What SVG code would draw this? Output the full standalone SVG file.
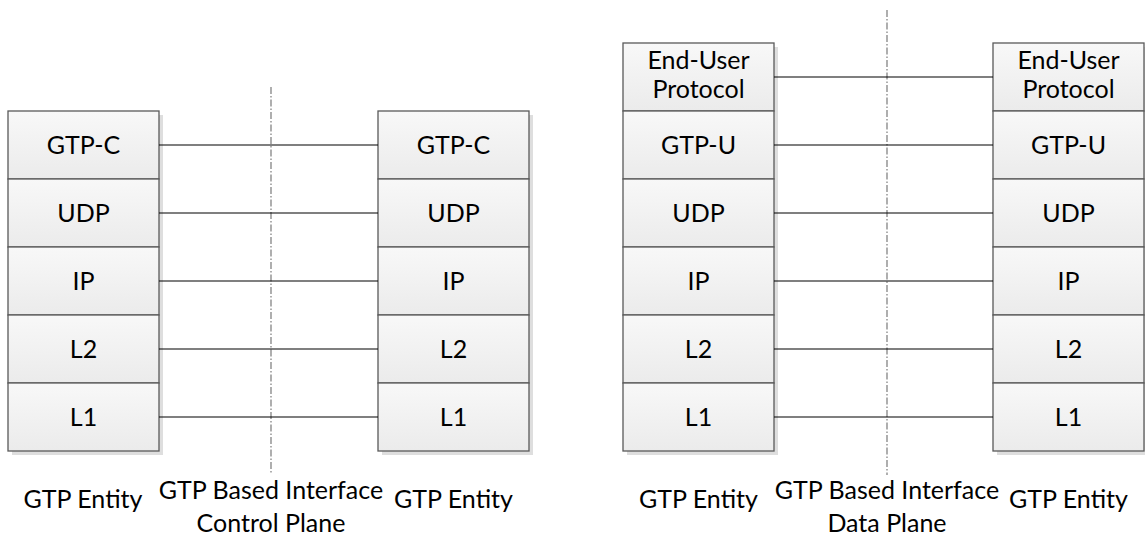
<svg xmlns="http://www.w3.org/2000/svg" width="1145" height="538" viewBox="0 0 1145 538">
  <style>
    .layer { fill: url(#boxFill); stroke: #595959; stroke-width: 1.3; }
    .shadow { fill: #dedede; }
    .lbl { font-family: "Lato", "Open Sans", "Liberation Sans", sans-serif; font-size: 25px; fill: #000; text-anchor: middle; }
    .link { stroke: #000; stroke-width: 1.1; fill: none; }
    .divider { stroke: #7a7a7a; stroke-width: 1.2; stroke-dasharray: 7 2 1.5 2; fill: none; }
  </style>
  <defs>
    <linearGradient id="boxFill" x1="0" y1="0" x2="0" y2="1">
      <stop offset="0" stop-color="#f8f8f8"/>
      <stop offset="1" stop-color="#ebebeb"/>
    </linearGradient>
  </defs>
  <rect width="1145" height="538" fill="#fff"/>

  <!-- control plane: left entity -->
  <g id="cp-left">
    <rect class="shadow" x="12" y="115" width="151" height="340"/>
    <rect class="layer" x="8" y="111" width="151" height="68"/>
    <text class="lbl" x="83.5" y="154">GTP-C</text>
    <rect class="layer" x="8" y="179" width="151" height="68"/>
    <text class="lbl" x="83.5" y="222">UDP</text>
    <rect class="layer" x="8" y="247" width="151" height="68"/>
    <text class="lbl" x="83.5" y="290">IP</text>
    <rect class="layer" x="8" y="315" width="151" height="68"/>
    <text class="lbl" x="83.5" y="358">L2</text>
    <rect class="layer" x="8" y="383" width="151" height="68"/>
    <text class="lbl" x="83.5" y="426">L1</text>
    <text class="lbl" x="83" y="508">GTP Entity</text>
  </g>

  <!-- control plane: right entity -->
  <g id="cp-right">
    <rect class="shadow" x="382" y="115" width="151" height="340"/>
    <rect class="layer" x="378" y="111" width="151" height="68"/>
    <text class="lbl" x="453.5" y="154">GTP-C</text>
    <rect class="layer" x="378" y="179" width="151" height="68"/>
    <text class="lbl" x="453.5" y="222">UDP</text>
    <rect class="layer" x="378" y="247" width="151" height="68"/>
    <text class="lbl" x="453.5" y="290">IP</text>
    <rect class="layer" x="378" y="315" width="151" height="68"/>
    <text class="lbl" x="453.5" y="358">L2</text>
    <rect class="layer" x="378" y="383" width="151" height="68"/>
    <text class="lbl" x="453.5" y="426">L1</text>
    <text class="lbl" x="453.5" y="508">GTP Entity</text>
  </g>

  <!-- data plane: left entity -->
  <g id="dp-left">
    <rect class="shadow" x="627" y="47" width="151" height="408"/>
    <rect class="layer" x="623" y="43" width="151" height="68"/>
    <text class="lbl" x="698.5" y="69">End-User</text>
    <text class="lbl" x="698.5" y="98">Protocol</text>
    <rect class="layer" x="623" y="111" width="151" height="68"/>
    <text class="lbl" x="698.5" y="154">GTP-U</text>
    <rect class="layer" x="623" y="179" width="151" height="68"/>
    <text class="lbl" x="698.5" y="222">UDP</text>
    <rect class="layer" x="623" y="247" width="151" height="68"/>
    <text class="lbl" x="698.5" y="290">IP</text>
    <rect class="layer" x="623" y="315" width="151" height="68"/>
    <text class="lbl" x="698.5" y="358">L2</text>
    <rect class="layer" x="623" y="383" width="151" height="68"/>
    <text class="lbl" x="698.5" y="426">L1</text>
    <text class="lbl" x="698.5" y="508">GTP Entity</text>
  </g>

  <!-- data plane: right entity -->
  <g id="dp-right">
    <rect class="shadow" x="997" y="47" width="151" height="408"/>
    <rect class="layer" x="993" y="43" width="151" height="68"/>
    <text class="lbl" x="1068.5" y="69">End-User</text>
    <text class="lbl" x="1068.5" y="98">Protocol</text>
    <rect class="layer" x="993" y="111" width="151" height="68"/>
    <text class="lbl" x="1068.5" y="154">GTP-U</text>
    <rect class="layer" x="993" y="179" width="151" height="68"/>
    <text class="lbl" x="1068.5" y="222">UDP</text>
    <rect class="layer" x="993" y="247" width="151" height="68"/>
    <text class="lbl" x="1068.5" y="290">IP</text>
    <rect class="layer" x="993" y="315" width="151" height="68"/>
    <text class="lbl" x="1068.5" y="358">L2</text>
    <rect class="layer" x="993" y="383" width="151" height="68"/>
    <text class="lbl" x="1068.5" y="426">L1</text>
    <text class="lbl" x="1068.5" y="508">GTP Entity</text>
  </g>

  <!-- interface boundaries -->
  <g id="cp-interface">
    <line class="divider" x1="271" y1="87" x2="271" y2="474"/>
    <text class="lbl" x="271" y="499">GTP Based Interface</text>
    <text class="lbl" x="271" y="532">Control Plane</text>
  </g>
  <g id="dp-interface">
    <line class="divider" x1="887" y1="10" x2="887" y2="475"/>
    <text class="lbl" x="887" y="499">GTP Based Interface</text>
    <text class="lbl" x="887" y="532">Data Plane</text>
  </g>

  <!-- peer-to-peer layer connectors -->
  <g id="connectors">
    <line class="link" x1="159" y1="145" x2="378" y2="145"/>
    <line class="link" x1="159" y1="213" x2="378" y2="213"/>
    <line class="link" x1="159" y1="281" x2="378" y2="281"/>
    <line class="link" x1="159" y1="349" x2="378" y2="349"/>
    <line class="link" x1="159" y1="417" x2="378" y2="417"/>
    <line class="link" x1="774" y1="77" x2="993" y2="77"/>
    <line class="link" x1="774" y1="145" x2="993" y2="145"/>
    <line class="link" x1="774" y1="213" x2="993" y2="213"/>
    <line class="link" x1="774" y1="281" x2="993" y2="281"/>
    <line class="link" x1="774" y1="349" x2="993" y2="349"/>
    <line class="link" x1="774" y1="417" x2="993" y2="417"/>
  </g>
</svg>
